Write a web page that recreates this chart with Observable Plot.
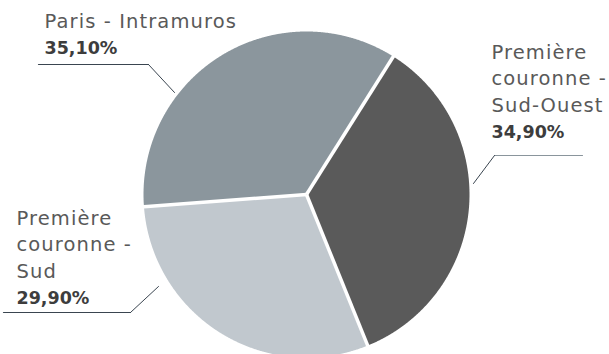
<!DOCTYPE html>
<html><head><meta charset="utf-8">
<script src="https://cdn.jsdelivr.net/npm/d3@7"></script>
<script src="https://cdn.jsdelivr.net/npm/@observablehq/plot@0.6"></script>
<style>
body{margin:0;background:#fff}
#chart svg{display:block}
.lbl text{letter-spacing:1.1px}
</style>
</head><body><div id="chart"></div>
<script>
// ---- data ----
const categories = ["Paris - Intramuros", "Première couronne - Sud-Ouest", "Première couronne - Sud"];
const labelLines = ["Paris - Intramuros", "Première\ncouronne -\nSud-Ouest", "Première\ncouronne -\nSud"];
const shares = [35.1, 34.9, 29.9];
const percentLabels = ["35,10%", "34,90%", "29,90%"];
const colors = ["#8b969d", "#5a5a5a", "#c1c8ce"];

// ---- layout ----
const W = 609, H = 354, cx = 306, cy = 194, R = 163;
const startDeg = -94.3;
const X = px => (px - cx) / R, Y = py => (cy - py) / R;
// label anchors (pixels): x, last regular baseline, percent baseline
const labelPos = [
  {x: 44, y: 27, py: 53},
  {x: 491, y: 111, py: 137},
  {x: 16, y: 277, py: 303}
];
const leaderPts = [
  [[38, 64], [148, 64], [174, 92]],
  [[582, 155], [494, 155], [473, 183]],
  [[3, 312], [130, 312], [158, 286]]
];

const arcs = d3.pie().sort(null)
  .startAngle(startDeg * Math.PI / 180)
  .endAngle((startDeg + 360) * Math.PI / 180)(shares);

const slicePts = arcs.flatMap((p, i) => {
  const pts = [{cat: categories[i], x: 0, y: 0}];
  const n = Math.ceil((p.endAngle - p.startAngle) / 0.004);
  for (let k = 0; k <= n; k++) {
    const a = p.startAngle + (p.endAngle - p.startAngle) * k / n;
    pts.push({cat: categories[i], x: Math.sin(a), y: Math.cos(a)});
  }
  pts.push({cat: categories[i], x: 0, y: 0});
  return pts;
});
const separators = arcs.map(p => ({x1: 0, y1: 0, x2: Math.sin(p.startAngle) * 1.02, y2: Math.cos(p.startAngle) * 1.02}));

const labels = categories.map((c, i) => ({text: labelLines[i], x: X(labelPos[i].x), y: Y(labelPos[i].y)}));
const pcts = categories.map((c, i) => ({text: percentLabels[i], x: X(labelPos[i].x), y: Y(labelPos[i].py)}));
const leaderDiag = leaderPts.flatMap((pts, i) => pts.slice(1).map(([px, py]) => ({k: i, x: X(px), y: Y(py)})));
const leaderHoriz = leaderPts.flatMap((pts, i) => pts.slice(0, 2).map(([px, py]) => ({k: i, x: X(px), y: Y(py)})));

const chart = Plot.plot({
  width: W, height: H, margin: 0,
  x: {domain: [-1, 1], range: [cx - R, cx + R], axis: null},
  y: {domain: [-1, 1], range: [cy + R, cy - R], axis: null},
  color: {domain: categories, range: colors},
  style: {fontFamily: "DejaVu Sans", background: "#fff", overflow: "visible"},
  marks: [
    Plot.line(slicePts, {x: "x", y: "y", z: "cat", fill: "cat", stroke: null, curve: "linear"}),
    Plot.link(separators, {x1: "x1", y1: "y1", x2: "x2", y2: "y2", stroke: "#fff", strokeWidth: 3.5}),
    Plot.line(leaderHoriz, {x: "x", y: "y", z: "k", stroke: (d) => d.k === 1 ? "#8a959c" : "#3a4550", strokeWidth: 1.2}),
    Plot.line(leaderDiag, {x: "x", y: "y", z: "k", stroke: "#3a4550", strokeWidth: 1}),
    Plot.text(labels, {x: "x", y: "y", text: "text", textAnchor: "start", lineAnchor: "bottom", lineHeight: 1.34, fontSize: 19.5, fill: "#595959", className: "lbl"}),
    Plot.text(pcts, {x: "x", y: "y", text: "text", textAnchor: "start", lineAnchor: "bottom", fontSize: 17.5, fontWeight: "bold", fill: "#3d3d3d"})
  ]
});
document.getElementById("chart").append(chart);
// letter spacing fallback if className unsupported
d3.select(chart).selectAll("g[aria-label='text']").filter((d, i) => i === 0).selectAll("text").style("letter-spacing", "1.1px");
</script>
</body></html>
